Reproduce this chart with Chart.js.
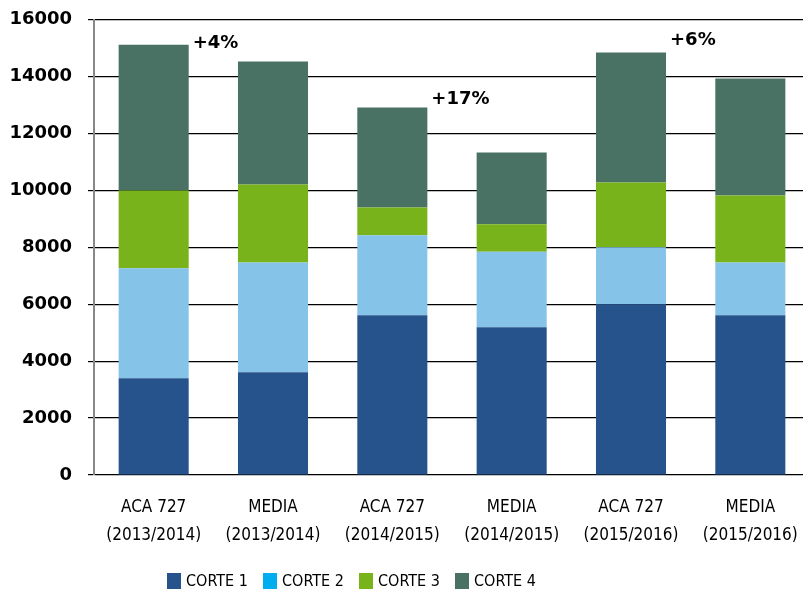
<!DOCTYPE html>
<html lang="es">
  <head>
    <meta charset="UTF-8" />
    <title>Cortes ACA 727 vs media</title>
    <script src="https://cdn.jsdelivr.net/npm/chart.js@4.4.1/dist/chart.umd.min.js"></script>
    <style>
      html, body { margin: 0; padding: 0; background: #fff; overflow: hidden; }
      #wrap { position: relative; width: 810px; height: 595px; }
      #legend {
        position: absolute; left: 167px; top: 571px;
        display: flex; color: #000; white-space: nowrap;
      }
      #legend .item { display: flex; align-items: center; width: 96px; flex-shrink: 0; }
      #legend .box { width: 14px; height: 16px; margin-right: 5px; flex-shrink: 0; }
    </style>
  </head>
  <body>
    <div id="wrap">
      <canvas id="chart" width="810" height="595"></canvas>
      <div id="legend"></div>
    </div>

    <script>
      // categories (two-line labels)
      const categories = [
        ["ACA 727", "(2013/2014)"],
        ["MEDIA", "(2013/2014)"],
        ["ACA 727", "(2014/2015)"],
        ["MEDIA", "(2014/2015)"],
        ["ACA 727", "(2015/2016)"],
        ["MEDIA", "(2015/2016)"]
      ];

      const seriesNames = ["CORTE 1", "CORTE 2", "CORTE 3", "CORTE 4"];
      const corte1 = [3400, 3610, 5610, 5190, 6000, 5610];
      const corte2 = [3860, 3860, 2810, 2650, 2000, 1860];
      const corte3 = [2740, 2740, 980, 970, 2280, 2350];
      const corte4 = [5120, 4320, 3510, 2520, 4560, 4110];

      const barColors = ["#26538c", "#85c3e8", "#78b31b", "#4a7264"];
      const legendColors = ["#26538c", "#00aeef", "#78b31b", "#4a7264"];

      // growth notes next to the ACA 727 bars
      const noteIndex = [0, 2, 4];
      const noteText = ["+4%", "+17%", "+6%"];
      const noteValue = [15160, 13190, 15260];

      const yTicks = [0, 2000, 4000, 6000, 8000, 10000, 12000, 14000, 16000];

      const seriesData = [corte1, corte2, corte3, corte4];

      // pick a condensed face if one is installed, otherwise shrink the regular one
      function hasFont(fam) {
        const c = document.createElement("canvas").getContext("2d");
        c.font = "20px monospace";
        const base = c.measureText("(2013/2014) CORTE").width;
        c.font = "20px '" + fam + "', monospace";
        return c.measureText("(2013/2014) CORTE").width !== base;
      }
      let labelFamily = "'Liberation Sans', Arial, sans-serif";
      let labelSize = 16;
      let legendSize = 15;
      for (const fam of ["Liberation Sans Narrow", "DejaVu Sans Condensed", "Arial Narrow"]) {
        if (hasFont(fam)) {
          labelFamily = "'" + fam + "', sans-serif";
          labelSize = fam === "DejaVu Sans Condensed" ? 17 : 19;
          legendSize = fam === "DejaVu Sans Condensed" ? 16 : 19;
          break;
        }
      }

      const notesPlugin = {
        id: "notes",
        afterDatasetsDraw(chart) {
          const ctx = chart.ctx;
          const meta = chart.getDatasetMeta(seriesData.length - 1);
          const y = chart.scales.y;
          ctx.save();
          ctx.font = "bold 18px 'DejaVu Sans'";
          ctx.fillStyle = "#000";
          ctx.textAlign = "left";
          ctx.textBaseline = "middle";
          noteIndex.forEach((idx, i) => {
            const bar = meta.data[idx];
            ctx.fillText(noteText[i], bar.x + bar.width / 2 + 4, y.getPixelForValue(noteValue[i]));
          });
          ctx.restore();
        }
      };

      new Chart(document.getElementById("chart"), {
        type: "bar",
        data: {
          labels: categories,
          datasets: seriesNames.map((name, i) => ({
            label: name,
            data: seriesData[i],
            backgroundColor: barColors[i],
            borderWidth: 0,
            categoryPercentage: 1,
            barPercentage: 0.587
          }))
        },
        options: {
          responsive: false,
          animation: false,
          layout: { padding: { top: 0, left: 0, right: 0, bottom: 0 } },
          plugins: {
            legend: { display: false },
            tooltip: { enabled: false }
          },
          scales: {
            x: {
              stacked: true,
              grid: { display: false },
              border: { display: false },
              ticks: {
                color: "#000",
                padding: 11,
                maxRotation: 0,
                autoSkip: false,
                font: { family: labelFamily, size: labelSize, lineHeight: 28 / labelSize }
              },
              afterFit(scale) { scale.height = 120; }
            },
            y: {
              stacked: true,
              min: 0,
              max: 16000,
              afterBuildTicks(scale) { scale.ticks = yTicks.map(v => ({ value: v })); },
              grid: { color: "#000", lineWidth: 1.2, tickLength: 6 },
              border: { color: "#888", width: 2 },
              ticks: {
                color: "#000",
                padding: 16,
                font: { family: "'DejaVu Sans'", size: 18, weight: "bold", lineHeight: 0.4 },
                callback: (v) => String(v)
              },
              afterFit(scale) { scale.width = 94; }
            }
          }
        },
        plugins: [notesPlugin]
      });

      // legend (CORTE 2 swatch is brighter than its bars in the original)
      const legend = document.getElementById("legend");
      legend.style.fontFamily = labelFamily;
      legend.style.fontSize = legendSize + "px";
      seriesNames.forEach((name, i) => {
        const item = document.createElement("div");
        item.className = "item";
        const box = document.createElement("span");
        box.className = "box";
        box.style.background = legendColors[i];
        const txt = document.createElement("span");
        txt.textContent = name;
        item.appendChild(box);
        item.appendChild(txt);
        legend.appendChild(item);
      });
    </script>
  </body>
</html>
